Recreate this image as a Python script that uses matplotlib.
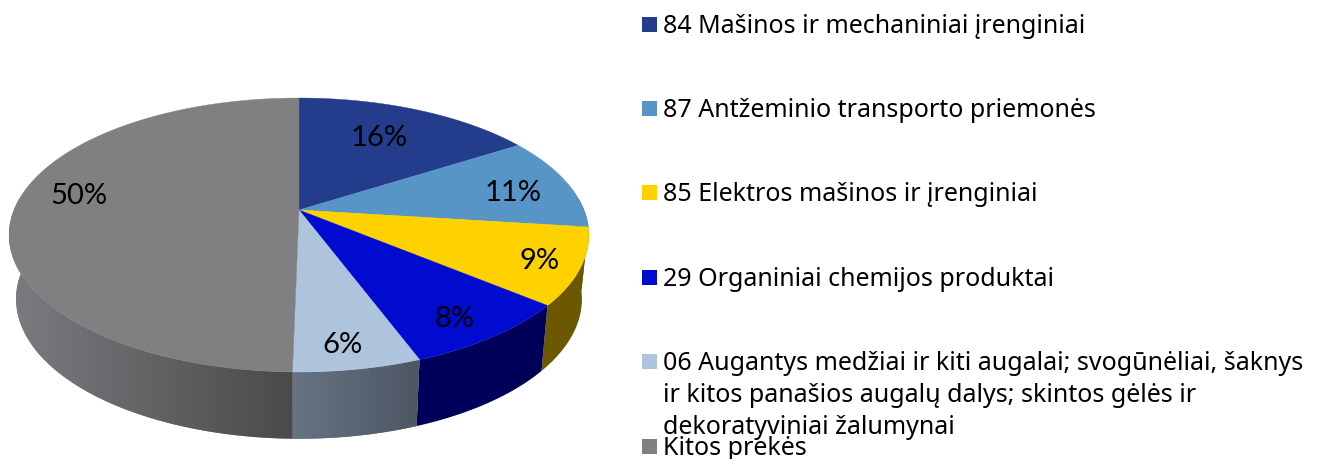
import numpy as np
import matplotlib
matplotlib.use('Agg')
import matplotlib.pyplot as plt
from matplotlib.patches import Polygon, Rectangle
from matplotlib.colors import LinearSegmentedColormap

plt.rcParams['font.family'] = ['Noto Sans', 'DejaVu Sans']

# data: clockwise from the top of the pie
labels = ['84 Mašinos ir mechaniniai įrenginiai',
          '87 Antžeminio transporto priemonės',
          '85 Elektros mašinos ir įrenginiai',
          '29 Organiniai chemijos produktai',
          '06 Augantys medžiai ir kiti augalai; svogūnėliai, šaknys\nir kitos panašios augalų dalys; skintos gėlės ir\ndekoratyviniai žalumynai',
          'Kitos prekės']
values = [16.0, 11.0, 9.0, 8.3, 6.0, 49.7]
pct_labels = ['16%', '11%', '9%', '8%', '6%', '50%']

top_colors = ['#243c8c', '#5795c6', '#fdd200', '#000bd0', '#adc4dc', '#808083']
wall_left = ['#1a2a60', '#3a6080', '#6b5800', '#00005a', '#677484', '#7c7c80']
wall_right = ['#1a2a60', '#3a6080', '#6b5800', '#00005a', '#4d5663', '#4a494b']

label_xy = [(379, 138), (513, 193), (540, 261), (455, 319), (342, 345), (79, 196)]
legend_y = [25, 109, 193, 278, 362, 447]

# perspective of the pie disc, in picture pixels
CX, CY = 299, 210
A, PX, PY = 285, 94.1, -0.1825


def disc(theta):
    # theta in degrees, clockwise from the back of the pie
    t = np.radians(theta)
    u, v = np.sin(t), -np.cos(t)
    w = 1 + PY * v
    return CX + A * u / w, (CY + PX * v) / w


def lower(x, y):
    # same point on the bottom rim
    return CX + 0.976 * (x - CX), y + 64 + (y - 235) * 0.02


fig = plt.figure(figsize=(13.25, 4.59), dpi=100, facecolor='white')
ax = fig.add_axes([0, 0, 1, 1])
ax.axis('off')

edges = np.concatenate([[0], np.cumsum(values)]) * 3.6

# side walls first, the top covers what is hidden
for i in range(len(values)):
    a0, a1 = edges[i], edges[i + 1]
    # keep only the part facing the viewer
    a0v, a1v = max(a0, 85), min(a1, 275)
    if a0v >= a1v:
        continue
    th = np.linspace(a0v, a1v, 80)
    xt, yt = disc(th)
    xb, yb = lower(xt, yt)
    pts = np.column_stack([np.concatenate([xt, xb[::-1]]), np.concatenate([yt, yb[::-1]])])
    poly = Polygon(pts, closed=True, facecolor=wall_left[i], edgecolor='none', zorder=1)
    ax.add_patch(poly)
    if wall_left[i] != wall_right[i]:
        cmap = LinearSegmentedColormap.from_list('w', [wall_left[i], wall_right[i]])
        xmin, xmax = pts[:, 0].min(), pts[:, 0].max()
        ymin, ymax = pts[:, 1].min(), pts[:, 1].max()
        im = ax.imshow(np.linspace(0, 1, 256)[None, :], cmap=cmap, aspect='auto',
                       extent=(xmin, xmax, ymax, ymin), zorder=1)
        im.set_clip_path(poly)

# top of the pie
for i in range(len(values)):
    th = np.linspace(edges[i], edges[i + 1], 200)
    x, y = disc(th)
    pts = np.column_stack([np.r_[CX, x], np.r_[CY, y]])
    ax.add_patch(Polygon(pts, closed=True, facecolor=top_colors[i], edgecolor=top_colors[i],
                         lw=0.3, zorder=2))

for txt, (lx, ly) in zip(pct_labels, label_xy):
    ax.text(lx, ly, txt, fontsize=21, family='Lato', color='black',
            ha='center', va='center', zorder=3)

# legend
for lab, col, ly in zip(labels, top_colors, legend_y):
    ax.add_patch(Rectangle((642, ly - 8), 15, 15, facecolor=col, edgecolor='none', zorder=3))
    ax.text(663, ly - 11, lab, fontsize=18, color='black',
            ha='left', va='top', linespacing=1.36, zorder=4)

ax.set_xlim(0, 1325)
ax.set_ylim(459, 0)

fig.savefig('out.png', dpi=100, facecolor='white')
plt.close(fig)
